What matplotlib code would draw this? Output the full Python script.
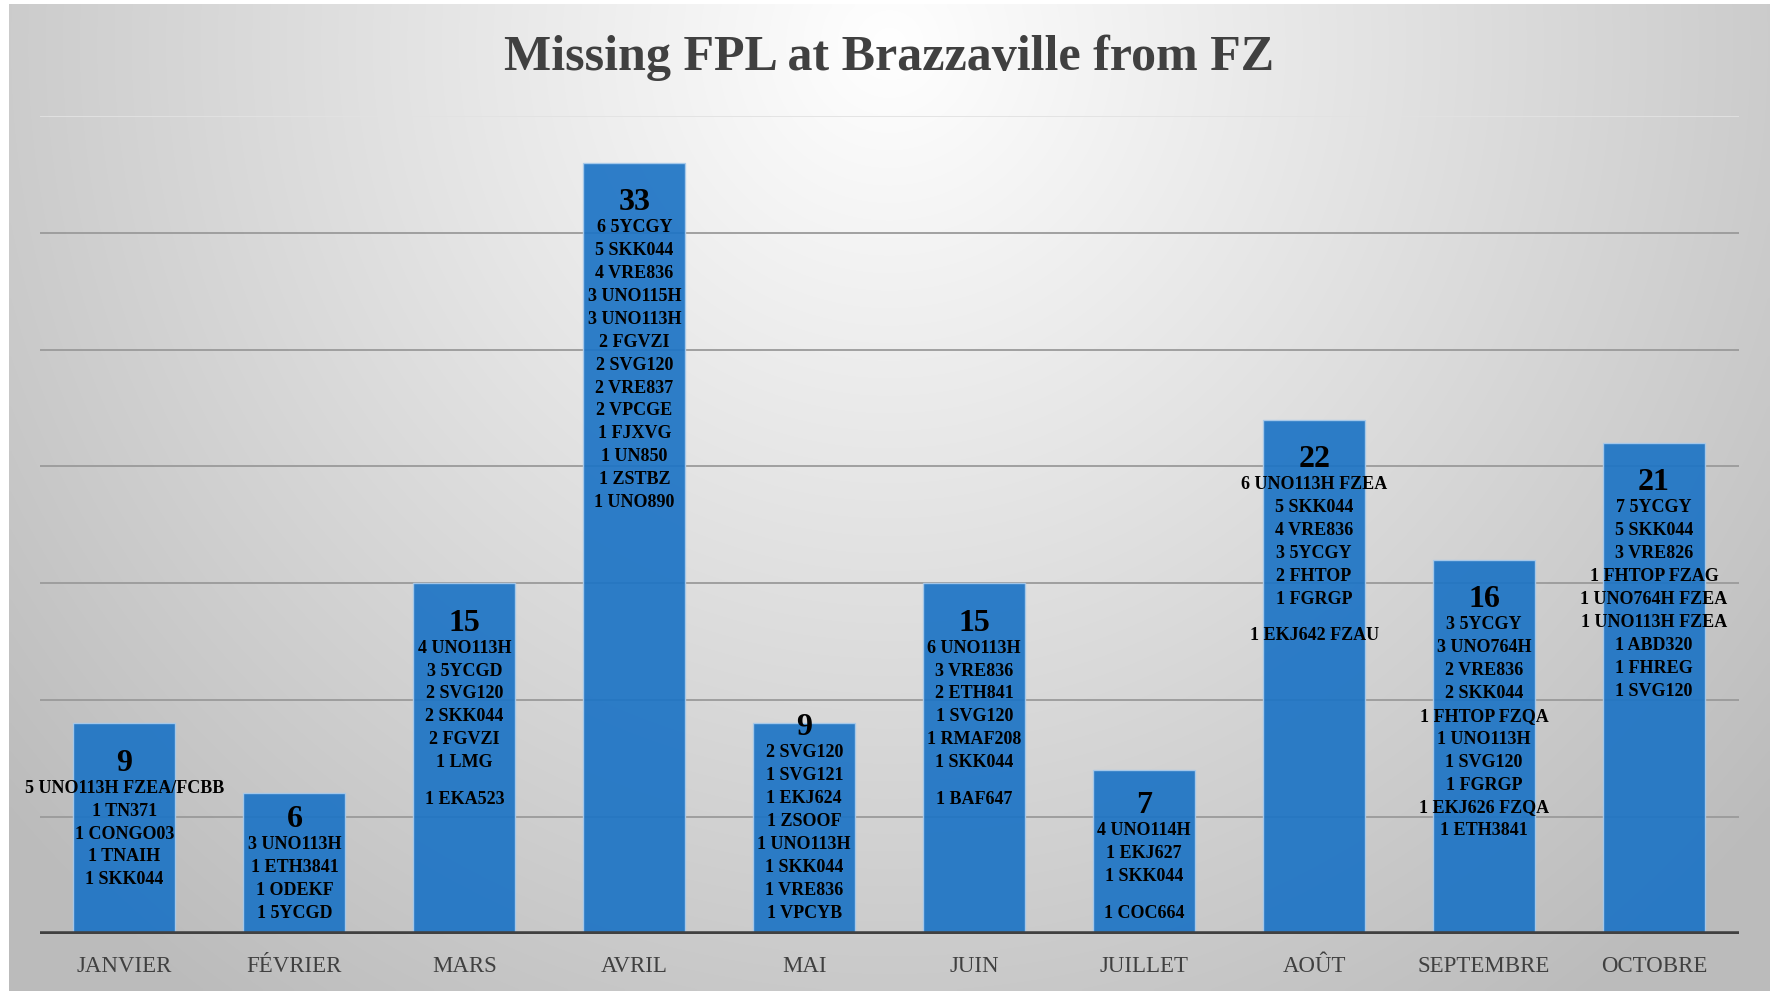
import numpy as np
import matplotlib
matplotlib.use("Agg")
import matplotlib.pyplot as plt

# ---------------- data ----------------
months = ["JANVIER", "FÉVRIER", "MARS", "AVRIL", "MAI", "JUIN",
          "JUILLET", "AOÛT", "SEPTEMBRE", "OCTOBRE"]
counts = [9, 6, 15, 33, 9, 15, 7, 22, 16, 21]

details_janvier = ["5 UNO113H FZEA/FCBB", "1 TN371", "1 CONGO03", "1 TNAIH", "1 SKK044"]
details_fevrier = ["3 UNO113H", "1 ETH3841", "1 ODEKF", "1 5YCGD"]
details_mars = ["4 UNO113H", "3 5YCGD", "2 SVG120", "2 SKK044", "2 FGVZI", "1 LMG", "", "1 EKA523"]
details_avril = ["6 5YCGY", "5 SKK044", "4 VRE836", "3 UNO115H", "3 UNO113H", "2 FGVZI",
                 "2 SVG120", "2 VRE837", "2 VPCGE", "1 FJXVG", "1 UN850", "1 ZSTBZ", "1 UNO890"]
details_mai = ["2 SVG120", "1 SVG121", "1 EKJ624", "1 ZSOOF", "1 UNO113H", "1 SKK044",
               "1 VRE836", "1 VPCYB"]
details_juin = ["6 UNO113H", "3 VRE836", "2 ETH841", "1 SVG120", "1 RMAF208", "1 SKK044", "", "1 BAF647"]
details_juillet = ["4 UNO114H", "1 EKJ627", "1 SKK044", "", "1 COC664"]
details_aout = ["6 UNO113H FZEA", "5 SKK044", "4 VRE836", "3 5YCGY", "2 FHTOP", "1 FGRGP", "",
                "1 EKJ642 FZAU"]
details_septembre = ["3 5YCGY", "3 UNO764H", "2 VRE836", "2 SKK044", "1 FHTOP FZQA", "1 UNO113H",
                     "1 SVG120", "1 FGRGP", "1 EKJ626 FZQA", "1 ETH3841"]
details_octobre = ["7 5YCGY", "5 SKK044", "3 VRE826", "1 FHTOP FZAG", "1 UNO764H FZEA",
                   "1 UNO113H FZEA", "1 ABD320", "1 FHREG", "1 SVG120"]
details = [details_janvier, details_fevrier, details_mars, details_avril, details_mai,
           details_juin, details_juillet, details_aout, details_septembre, details_octobre]

title = "Missing FPL at Brazzaville from FZ"
y_ticks = [5, 10, 15, 20, 25, 30, 35]

# ---------------- figure ----------------
W, H, DPI = 1770, 991, 100
fig = plt.figure(figsize=(W / DPI, H / DPI), dpi=DPI)
fig.patch.set_facecolor("white")

# background gradient
bg = fig.add_axes([9 / W, 0, 1 - 9 / W, 1 - 4 / H], zorder=-10)
bg.set_axis_off()
gx, gy = np.meshgrid(np.linspace(0, 1, 400), np.linspace(0, 1, 240))
d = np.sqrt(((gx - 0.5) / 0.55) ** 2 + ((gy - 0.04) / 1.0) ** 2)
val = 1.0 - 0.22 * np.clip(d, 0, 1.2)
img = np.dstack([val, val, val])
bg.imshow(img, aspect="auto", extent=[0, 1, 1, 0], interpolation="bilinear")
bg.set_xlim(0, 1)
bg.set_ylim(1, 0)

ax = fig.add_axes([39.5 / W, 57.5 / H, (1739 - 39.5) / W, (933.5 - 116) / H])
ax.patch.set_alpha(0)
ax.set_ylim(0, 35)
ax.set_xlim(-0.5, len(months) - 0.5)

for t in y_ticks:
    ax.axhline(t, color="#e2e2e2" if t == 35 else "#9a9a9a", lw=1.3, zorder=1)

x = np.arange(len(months))
ax.bar(x, counts, width=0.6, color="#1D74C5", alpha=0.92, edgecolor="#a9cbec",
       linewidth=1.0, zorder=2)

ax.axhline(0, color="#404040", lw=4.0, zorder=4)

for s in ax.spines.values():
    s.set_visible(False)
ax.set_yticks([])
ax.set_xticks(x)
ax.set_xticklabels(months, fontfamily="Liberation Serif", fontsize=16.5, color="#404040")
ax.tick_params(axis="x", length=0, pad=16)

fig.text(889.5 / W, 1 - 58 / H, title, ha="center", va="center",
         fontfamily="Liberation Serif", fontweight="bold", fontsize=36, color="#404040")

# data labels
ppu = ax.transData.transform((0, 1))[1] - ax.transData.transform((0, 0))[1]
pad_num = 40
num_to_first = 25
pitch = 22.9
blank = 13.5
min_bottom = 20.5

for xi, v, lines in zip(x, counts, details):
    top_px = v * ppu
    offs = []
    cur = pad_num + num_to_first
    first = True
    for ln in lines:
        if ln == "":
            cur += blank
            continue
        if not first:
            cur += pitch
        offs.append((ln, cur))
        first = False
    last = offs[-1][1]
    shift = 0.0
    if top_px - last < min_bottom:
        shift = min_bottom - (top_px - last)
    ax.annotate(str(v), xy=(xi, v), xytext=(0, -(pad_num - shift)), textcoords="offset pixels",
                ha="center", va="center", fontfamily="Liberation Serif", fontweight="bold",
                fontsize=23, color="black", zorder=5)
    for ln, o in offs:
        ax.annotate(ln, xy=(xi, v), xytext=(0, -(o - shift)), textcoords="offset pixels",
                    ha="center", va="center", fontfamily="Liberation Serif", fontweight="bold",
                    fontsize=13, color="black", zorder=5)

fig.savefig("out.png", dpi=DPI)
